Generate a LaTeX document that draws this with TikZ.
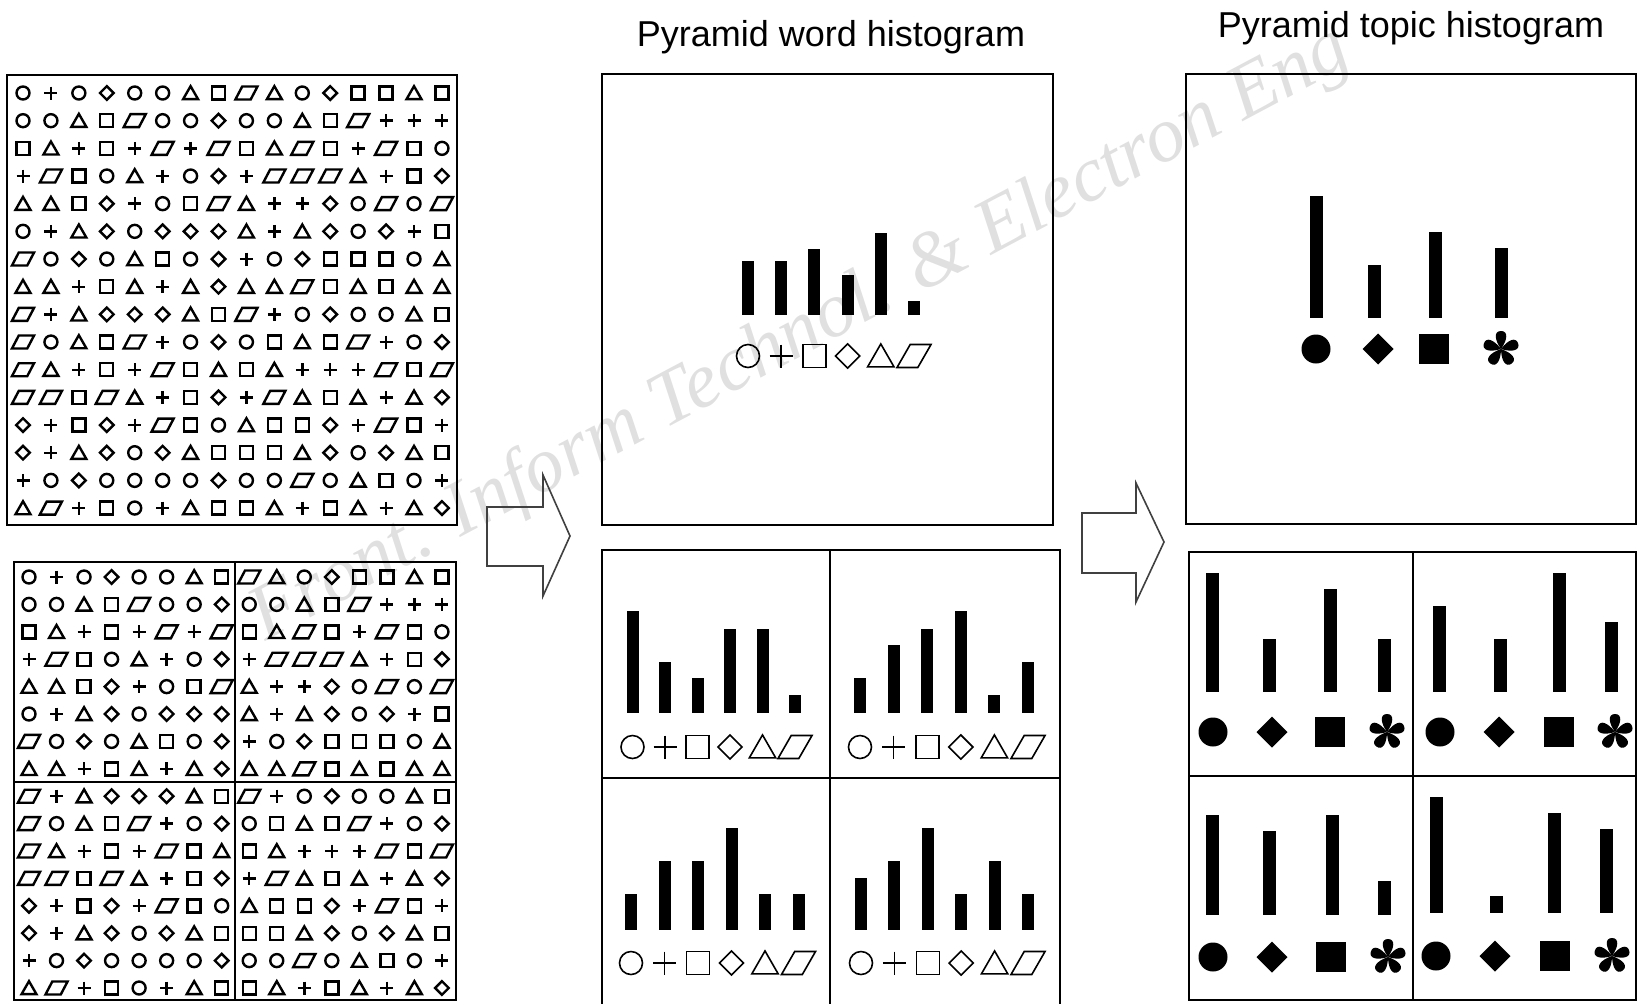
\documentclass[tikz,border=0pt]{standalone}
\usepackage{fontspec}
\setmainfont{Liberation Sans}
\newfontfamily\wmfont{Liberation Serif}
\usepackage{tikz}

% symbol field, one row per line: O circle, P plus, S square, D diamond, T triangle, L parallelogram
\def\gridrows{%
  {O,P,O,D,O,O,T,S,L,T,O,D,S,S,T,S},
  {O,O,T,S,L,O,O,D,O,O,T,S,L,P,P,P},
  {S,T,P,S,P,L,P,L,S,T,L,S,P,L,S,O},
  {P,L,S,O,T,P,O,D,P,L,L,L,T,P,S,D},
  {T,T,S,D,P,O,S,L,T,P,P,D,O,L,O,L},
  {O,P,T,D,O,D,D,D,T,P,T,D,O,D,P,S},
  {L,O,D,O,T,S,O,D,P,O,D,S,S,S,O,T},
  {T,T,P,S,T,P,T,D,T,T,L,S,T,S,T,T},
  {L,P,T,D,D,D,T,S,L,P,O,D,O,O,T,S},
  {L,O,T,S,L,P,O,D,O,S,T,S,L,P,O,D},
  {L,T,P,S,P,L,S,T,S,T,P,P,P,L,S,L},
  {L,L,S,L,T,P,S,D,P,L,T,S,T,P,T,D},
  {D,P,S,D,P,L,S,O,T,S,S,D,P,L,S,P},
  {D,P,T,D,O,D,T,S,S,S,T,D,O,D,T,S},
  {P,O,D,O,O,O,O,D,O,O,L,O,T,S,O,P},
  {T,L,P,S,O,P,T,S,S,T,P,S,T,P,T,D}}

% #1 first column x, #2 column pitch, #3 first row y, #4 row pitch
\newcommand{\symgrid}[4]{%
  \foreach \row [count=\r from 0] in \gridrows
    \foreach \s [count=\c from 0] in \row
      \pic[gridsym] at (#1+#2*\c,#3+#4*\r) {sym\s};
}

% #1 first bar x, #2 bar pitch, #3 bar foot y, #4 legend y, #5 bar heights
\newcommand{\wordhist}[5]{%
  \foreach \bh [count=\i from 0] in {#5}
    \fill (#1+#2*\i-6,#3) rectangle ++(12,-\bh);
  \foreach \s [count=\i from 0] in {symO,symP,symS,symD,symT,legL}
    \pic[legsym] at (#1+#2*\i,#4) {\s};
}

% #1 bar foot y, #2 legend y, #3 list of bar x / bar height / legend x
\newcommand{\topichist}[3]{%
  \foreach \bx/\bh/\sx [count=\i] in {#3} {
    \fill (\bx-6,#1) rectangle ++(12.5,-\bh);
    \pic at (\sx,#2) {tsym\i};
  }
}

\begin{document}
\begin{tikzpicture}[
    x=0.5pt, y=-0.5pt,
    frame/.style={draw=black, line width=1.2pt},
    gridsym/.style={scale=6.5, line width=1.2pt},
    legsym/.style={scale=11.5, line width=0.8pt},
    bigarrow/.style={draw=black!75, line width=0.8pt, line join=miter},
    title/.style={font=\fontsize{18}{20}\selectfont, anchor=base},
    wmark/.style={font=\wmfont\itshape\fontsize{39}{40}\selectfont, text=black!12, rotate=28, anchor=base},
    symO/.pic={\draw (0,0) circle (1);},
    symP/.pic={\draw (-1,0) -- (1,0) (0,-1) -- (0,1);},
    symS/.pic={\draw (-1,-1) rectangle (1,1);},
    symD/.pic={\draw (0,-1.05) -- (1.05,0) -- (0,1.05) -- (-1.05,0) -- cycle;},
    symT/.pic={\draw (-1.15,0.95) -- (1.15,0.95) -- (0,-1.05) -- cycle;},
    symL/.pic={\draw (-1.7,1) -- (0.65,1) -- (1.7,-1) -- (-0.65,-1) -- cycle;},
    legL/.pic={\draw (-1.48,1) -- (0.33,1) -- (1.48,-1) -- (-0.33,-1) -- cycle;},
    tsym1/.pic={\fill (0,0) circle (14.5);},
    tsym2/.pic={\fill (0,-15.5) -- (15.5,0) -- (0,15.5) -- (-15.5,0) -- cycle;},
    tsym3/.pic={\fill (-15,-15) rectangle (15,15);},
    tsym4/.pic={\foreach \a in {0,72,...,288}
      \fill[rotate=\a] (0,0) .. controls (-7,-10) and (-7,-18) .. (0,-18) .. controls (7,-18) and (7,-10) .. (0,0);}
  ]
  \useasboundingbox (0,0) rectangle (1638,1003);

  % Watermark
  \node[wmark] (wmark) at (810,352) {Front. Inform Technol. \& Electron Eng};

  % Titles
  \node[title] (wordtitle) at (831,46.5) {Pyramid word histogram};
  \node[title] (topictitle) at (1411,37.5) {Pyramid topic histogram};

  % Image as a field of visual words
  \draw[frame] (7,75) rectangle (457,525);
  \symgrid{23}{27.93}{93}{27.67}

  % Same field cut into four cells
  \draw[frame] (14,562) rectangle (456,1000);
  \draw[frame] (235,562) -- (235,1000) (14,782) -- (456,782);
  \symgrid{29}{27.53}{577}{27.4}

  % Arrows
  \draw[bigarrow] (487,507) -- (543,507) -- (543,475) -- (570,536) -- (543,596) -- (543,566) -- (487,566) -- cycle;
  \draw[bigarrow] (1082,513) -- (1136,513) -- (1136,483) -- (1164,542) -- (1136,602) -- (1136,573) -- (1082,573) -- cycle;

  % Pyramid word histogram
  \draw[frame] (602,74) rectangle (1053,525);
  \wordhist{748}{33.2}{315}{356}{54,54,66,40,82,14}
  \draw[frame] (602,550) rectangle (1060,1008);
  \draw[frame] (830,550) -- (830,1008) (602,778) -- (1060,778);
  \wordhist{632.5}{32.5}{713}{747}{102,51,35,84,84,18}
  \wordhist{860}{33.6}{713}{747}{35,68,84,102,18,51}
  \wordhist{631}{33.5}{930}{963}{36,69,69,102,36,36}
  \wordhist{861}{33.4}{930}{963}{52,69,102,36,69,36}

  % Pyramid topic histogram
  \draw[frame] (1186,74) rectangle (1636,524);
  \topichist{318}{349}{1316/122/1316, 1374/53/1378, 1435/86/1434, 1501/70/1501}
  \draw[frame] (1189,552) rectangle (1636,1000);
  \draw[frame] (1413,552) -- (1413,1000) (1189,776) -- (1636,776);
  \topichist{692}{732}{1212/119/1213, 1269/53/1272, 1330/103/1330, 1384/53/1387}
  \topichist{692}{732}{1439/86/1440, 1500/53/1499, 1559/119/1559, 1611/70/1615}
  \topichist{915}{957}{1212/100/1213, 1269/84/1272, 1332/100/1331, 1384/34/1388}
  \topichist{913}{956}{1436/116/1436, 1496/17/1495, 1554/100/1555, 1606/84/1612}
\end{tikzpicture}
\end{document}
